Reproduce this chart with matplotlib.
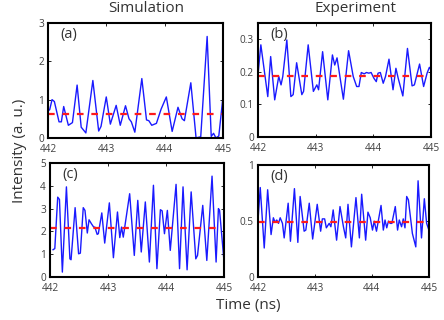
import matplotlib
matplotlib.use("Agg")
import matplotlib.pyplot as plt

plt.rcParams['font.family'] = ['Open Sans', 'DejaVu Sans']

# (a) Simulation, upper
t_a = [442.00, 442.03, 442.07, 442.11, 442.19, 442.23, 442.27, 442.35, 442.42, 442.50,
       442.57, 442.65, 442.77, 442.87, 442.91, 443.00, 443.07, 443.17, 443.24, 443.33,
       443.39, 443.43, 443.49, 443.61, 443.69, 443.73, 443.78, 443.86, 443.94, 444.03,
       444.13, 444.23, 444.30, 444.34, 444.45, 444.54, 444.62, 444.73, 444.80, 444.84,
       444.88, 444.93, 445.00]
y_a = [0.70, 0.74, 1.00, 0.95, 0.42, 0.42, 0.82, 0.33, 0.40, 1.38,
       0.28, 0.13, 1.50, 0.18, 0.30, 1.07, 0.36, 0.85, 0.33, 0.84,
       0.50, 0.42, 0.15, 1.55, 0.47, 0.45, 0.33, 0.38, 0.75, 1.07,
       0.17, 0.80, 0.50, 0.45, 1.44, 0.00, 0.03, 2.65, 0.04, 0.12,
       0.00, 0.05, 1.05]
mean_a = 0.62

# (b) Experiment, upper
t_b = [442.00, 442.05, 442.17, 442.22, 442.29, 442.36, 442.40, 442.43, 442.50, 442.57,
       442.61, 442.67, 442.76, 442.79, 442.87, 442.96, 442.99, 443.02, 443.05, 443.12,
       443.21, 443.29, 443.33, 443.37, 443.48, 443.57, 443.65, 443.71, 443.75, 443.79,
       443.84, 443.88, 443.92, 443.96, 444.01, 444.05, 444.08, 444.12, 444.17, 444.21,
       444.27, 444.34, 444.39, 444.43, 444.51, 444.59, 444.67, 444.71, 444.80, 444.87,
       444.93, 444.97, 445.00]
y_b = [0.19, 0.283, 0.124, 0.247, 0.114, 0.186, 0.160, 0.186, 0.298, 0.124,
       0.130, 0.228, 0.130, 0.140, 0.283, 0.140, 0.150, 0.160, 0.145, 0.262,
       0.114, 0.252, 0.221, 0.243, 0.116, 0.265, 0.186, 0.155, 0.155, 0.198,
       0.194, 0.198, 0.196, 0.198, 0.180, 0.170, 0.196, 0.198, 0.165, 0.186,
       0.239, 0.145, 0.211, 0.180, 0.126, 0.272, 0.157, 0.160, 0.224, 0.155,
       0.196, 0.214, 0.205]
mean_b = 0.187

# (c) Simulation, lower
t_c = [442.05, 442.08, 442.13, 442.16, 442.21, 442.28, 442.34, 442.36, 442.43, 442.49,
       442.52, 442.57, 442.60, 442.64, 442.67, 442.71, 442.75, 442.77, 442.81, 442.83,
       442.89, 442.94, 443.02, 443.09, 443.16, 443.20, 443.23, 443.26, 443.37, 443.45,
       443.51, 443.57, 443.64, 443.71, 443.78, 443.84, 443.90, 443.93, 443.97, 444.02,
       444.07, 444.17, 444.23, 444.29, 444.36, 444.43, 444.51, 444.54, 444.63, 444.70,
       444.79, 444.86, 444.90, 444.92, 444.99]
y_c = [1.20, 1.25, 3.50, 3.40, 0.22, 3.95, 0.80, 0.76, 3.04, 1.02,
       1.05, 3.04, 2.92, 1.93, 2.51, 2.34, 2.19, 2.19, 1.87, 1.90,
       2.81, 1.49, 3.25, 0.85, 2.85, 1.73, 2.19, 1.75, 3.65, 0.95,
       3.36, 1.10, 3.29, 0.66, 4.02, 0.37, 2.95, 2.90, 1.90, 2.92,
       1.17, 4.06, 0.37, 3.95, 0.32, 3.73, 0.80, 0.95, 3.14, 0.73,
       4.42, 0.66, 3.00, 2.92, 0.88]
mean_c = 2.15

# (d) Experiment, lower
t_d = [442.00, 442.04, 442.11, 442.17, 442.23, 442.27, 442.30, 442.33, 442.36, 442.39,
       442.43, 442.46, 442.53, 442.57, 442.64, 442.70, 442.74, 442.81, 442.84, 442.90,
       442.96, 443.04, 443.10, 443.13, 443.17, 443.20, 443.25, 443.28, 443.32, 443.38,
       443.44, 443.50, 443.54, 443.58, 443.64, 443.72, 443.78, 443.82, 443.89, 443.93,
       443.97, 444.01, 444.04, 444.08, 444.16, 444.20, 444.23, 444.26, 444.29, 444.32,
       444.35, 444.41, 444.45, 444.48, 444.52, 444.55, 444.58, 444.61, 444.64, 444.71,
       444.77, 444.81, 444.87, 444.92, 444.96, 445.00]
y_d = [0.50, 0.80, 0.26, 0.78, 0.38, 0.53, 0.49, 0.51, 0.48, 0.53,
       0.48, 0.35, 0.66, 0.32, 0.79, 0.31, 0.72, 0.41, 0.42, 0.66,
       0.34, 0.65, 0.41, 0.52, 0.52, 0.44, 0.48, 0.45, 0.60, 0.33,
       0.63, 0.45, 0.35, 0.65, 0.27, 0.71, 0.35, 0.74, 0.33, 0.58,
       0.53, 0.42, 0.50, 0.41, 0.64, 0.42, 0.51, 0.44, 0.50, 0.48,
       0.48, 0.63, 0.42, 0.51, 0.45, 0.52, 0.44, 0.72, 0.69, 0.39,
       0.27, 0.86, 0.35, 0.70, 0.48, 0.42]
mean_d = 0.49

x_ticks = [442, 443, 444, 445]
x_labels = ['442', '443', '444', '445']

panels = [
    ('(a)', t_a, y_a, mean_a, (0, 3), [0, 1, 2, 3], ['0', '1', '2', '3'],
     [0.108, 0.569, 0.394, 0.359]),
    ('(b)', t_b, y_b, mean_b, (0, 0.35), [0, 0.1, 0.2, 0.3], ['0', '0.1', '0.2', '0.3'],
     [0.581, 0.572, 0.390, 0.356]),
    ('(c)', t_c, y_c, mean_c, (0, 5), [0, 1, 2, 3, 4, 5], ['0', '1', '2', '3', '4', '5'],
     [0.113, 0.134, 0.392, 0.357]),
    ('(d)', t_d, y_d, mean_d, (0, 1), [0, 0.5, 1], ['0', '0.5', '1'],
     [0.581, 0.134, 0.385, 0.350]),
]

fig = plt.figure(figsize=(4.44, 3.2), dpi=100)

for label, t, y, m, ylim, yt, ytl, rect in panels:
    ax = fig.add_axes(rect)
    ax.plot(t, y, color='#1a1aff', lw=1.0, solid_joinstyle='round')
    ax.axhline(m, color='#ff1a1a', lw=1.6, linestyle=(0, (3, 3.5)))
    ax.set_xlim(442, 445)
    ax.set_ylim(*ylim)
    ax.set_xticks(x_ticks)
    ax.set_xticklabels(x_labels)
    ax.set_yticks(yt)
    ax.set_yticklabels(ytl)
    ax.tick_params(direction='in', length=2.5, width=0.6, top=True, right=True,
                   labelsize=7.2, labelcolor='#404040', pad=2)
    ax.tick_params(axis='x', pad=4.5)
    ax.tick_params(axis='y', pad=3)
    for s in ax.spines.values():
        s.set_linewidth(1.5)
    ax.text(0.07, 0.9, label, transform=ax.transAxes, fontsize=10.5,
            color='#333333', va='center', ha='left')

fig.text(0.33, 0.972, 'Simulation', ha='center', va='center', fontsize=11, color='#333333')
fig.text(0.80, 0.972, 'Experiment', ha='center', va='center', fontsize=11, color='#333333')
fig.text(0.045, 0.53, 'Intensity (a. u.)', rotation=90, ha='center', va='center',
         fontsize=11, color='#333333')
fig.text(0.56, 0.045, 'Time (ns)', ha='center', va='center', fontsize=11, color='#333333')

fig.savefig('out.png', dpi=100)
